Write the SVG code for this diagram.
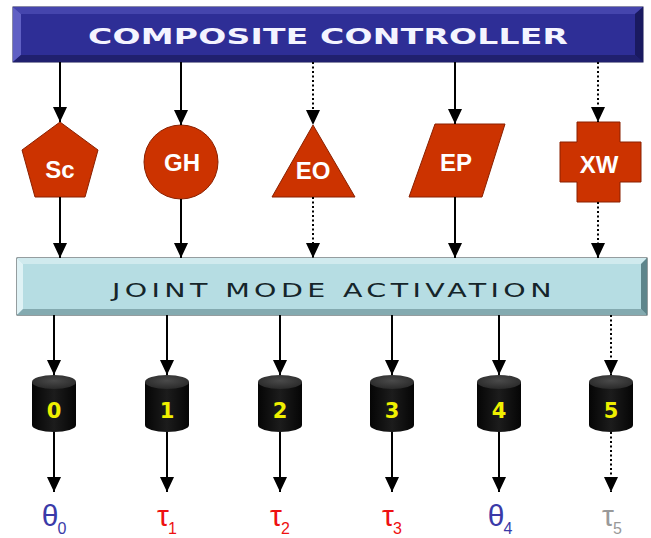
<svg xmlns="http://www.w3.org/2000/svg" width="651" height="538" viewBox="0 0 651 538">
<defs>
<style>
.sh{fill:#cc3300;stroke:#8a2000;stroke-width:1}
.lbl{font-family:"Liberation Sans",Arial,sans-serif;font-weight:bold;font-size:24px;fill:#ffffff;text-anchor:middle}
.con{stroke:#000;stroke-width:2;fill:none}
.dot{stroke-dasharray:2 2.5}
.num{font-family:"DejaVu Sans",sans-serif;font-weight:bold;font-size:21px;fill:#f0f000;text-anchor:middle}
.out{font-family:"Liberation Sans",Arial,sans-serif;font-size:30px;text-anchor:middle}
.sub{font-size:16px}
</style>
<marker id="arr" viewBox="0 0 15 14" refX="15" refY="7" markerWidth="15" markerHeight="14" markerUnits="userSpaceOnUse" orient="auto">
<path d="M0,0 L15,7 L0,14 z" fill="#000"/>
</marker>
<linearGradient id="cyl" x1="0" y1="0" x2="1" y2="0">
<stop offset="0" stop-color="#050505"/>
<stop offset="0.5" stop-color="#1c1c1c"/>
<stop offset="1" stop-color="#050505"/>
</linearGradient>
<radialGradient id="cyltop" cx="0.5" cy="0.4" r="0.6">
<stop offset="0" stop-color="#4a4a4a"/>
<stop offset="1" stop-color="#2a2a2a"/>
</radialGradient>
</defs>
<rect width="651" height="538" fill="#ffffff"/>

<g id="composite-controller">
<rect x="13" y="7" width="630" height="55" fill="#2e2e96" stroke="#151550" stroke-width="1"/>
<polygon points="13,7 643,7 635,14 21,14" fill="#4545ad"/>
<polygon points="13,7 21,14 21,55 13,62" fill="#6060c4"/>
<polygon points="13,62 21,55 635,55 643,62" fill="#20206e"/>
<polygon points="643,7 643,62 635,55 635,14" fill="#1a1a60"/>
<text transform="translate(88,44) scale(1.5,1)" x="0" y="0" textLength="320" lengthAdjust="spacing" style="font-family:'DejaVu Sans',sans-serif;font-weight:600;font-size:22px;fill:#f4f4ff">COMPOSITE CONTROLLER</text>
</g>

<g id="node-sc">
<polygon class="sh" points="60,122 98,150 85,197 35,197 22,150"/>
<text class="lbl" x="60" y="178">Sc</text>
</g>
<g id="node-gh">
<circle class="sh" cx="181" cy="162" r="37"/>
<text class="lbl" x="182" y="171">GH</text>
</g>
<g id="node-eo">
<polygon class="sh" points="313,125 355,197 272,197"/>
<text class="lbl" x="313" y="179">EO</text>
</g>
<g id="node-ep">
<polygon class="sh" points="435,124 505,124 482,197 409,197"/>
<text class="lbl" x="456" y="171">EP</text>
</g>
<g id="node-xw">
<polygon class="sh" points="577,122 620,122 620,142 641,142 641,182 620,182 620,202 577,202 577,182 560,182 560,142 577,142"/>
<text class="lbl" x="599" y="173">XW</text>
</g>

<g id="joint-mode-activation">
<rect x="17" y="258" width="630" height="57" fill="#b6dde3" stroke="#2c3c40" stroke-width="1"/>
<polygon points="17,258 647,258 641,264 23,264" fill="#d0eaee"/>
<polygon points="17,258 23,264 23,309 17,315" fill="#dff2f5"/>
<polygon points="17,315 23,309 641,309 647,315" fill="#84aab0"/>
<polygon points="647,258 647,315 641,309 641,264" fill="#5e858b"/>
<text transform="translate(112,297) scale(1.5,1)" x="0" y="0" textLength="293" lengthAdjust="spacing" style="font-family:'DejaVu Sans',sans-serif;font-size:19px;fill:#15252a">JOINT MODE ACTIVATION</text>
</g>

<g id="cylinders">
<g id="cyl-0"><path d="M32,382 L32,425 A22,7 0 0 0 76,425 L76,382 Z" fill="url(#cyl)"/><ellipse cx="54" cy="382" rx="22" ry="7" fill="url(#cyltop)"/><text class="num" x="54" y="418">0</text></g>
<g id="cyl-1"><path d="M145,382 L145,425 A22,7 0 0 0 189,425 L189,382 Z" fill="url(#cyl)"/><ellipse cx="167" cy="382" rx="22" ry="7" fill="url(#cyltop)"/><text class="num" x="167" y="418">1</text></g>
<g id="cyl-2"><path d="M258,382 L258,425 A22,7 0 0 0 302,425 L302,382 Z" fill="url(#cyl)"/><ellipse cx="280" cy="382" rx="22" ry="7" fill="url(#cyltop)"/><text class="num" x="280" y="418">2</text></g>
<g id="cyl-3"><path d="M370,382 L370,425 A22,7 0 0 0 414,425 L414,382 Z" fill="url(#cyl)"/><ellipse cx="392" cy="382" rx="22" ry="7" fill="url(#cyltop)"/><text class="num" x="392" y="418">3</text></g>
<g id="cyl-4"><path d="M477,382 L477,425 A22,7 0 0 0 521,425 L521,382 Z" fill="url(#cyl)"/><ellipse cx="499" cy="382" rx="22" ry="7" fill="url(#cyltop)"/><text class="num" x="499" y="418">4</text></g>
<g id="cyl-5"><path d="M589,382 L589,425 A22,7 0 0 0 633,425 L633,382 Z" fill="url(#cyl)"/><ellipse cx="611" cy="382" rx="22" ry="7" fill="url(#cyltop)"/><text class="num" x="611" y="418">5</text></g>
</g>

<g id="connectors">
<line class="con" x1="60" y1="62" x2="60" y2="122" marker-end="url(#arr)"/>
<line class="con" x1="181" y1="62" x2="181" y2="125" marker-end="url(#arr)"/>
<line class="con dot" x1="313" y1="62" x2="313" y2="125" marker-end="url(#arr)"/>
<line class="con" x1="455" y1="62" x2="455" y2="124" marker-end="url(#arr)"/>
<line class="con dot" x1="598" y1="62" x2="598" y2="122" marker-end="url(#arr)"/>

<line class="con" x1="60" y1="197" x2="60" y2="258" marker-end="url(#arr)"/>
<line class="con" x1="181" y1="199" x2="181" y2="258" marker-end="url(#arr)"/>
<line class="con dot" x1="313" y1="197" x2="313" y2="258" marker-end="url(#arr)"/>
<line class="con" x1="455" y1="197" x2="455" y2="258" marker-end="url(#arr)"/>
<line class="con dot" x1="598" y1="202" x2="598" y2="258" marker-end="url(#arr)"/>

<line class="con" x1="54" y1="315" x2="54" y2="375" marker-end="url(#arr)"/>
<line class="con" x1="167" y1="315" x2="167" y2="375" marker-end="url(#arr)"/>
<line class="con" x1="280" y1="315" x2="280" y2="375" marker-end="url(#arr)"/>
<line class="con" x1="392" y1="315" x2="392" y2="375" marker-end="url(#arr)"/>
<line class="con" x1="499" y1="315" x2="499" y2="375" marker-end="url(#arr)"/>
<line class="con dot" x1="611" y1="315" x2="611" y2="375" marker-end="url(#arr)"/>

<line class="con" x1="54" y1="432" x2="54" y2="492" marker-end="url(#arr)"/>
<line class="con" x1="167" y1="432" x2="167" y2="492" marker-end="url(#arr)"/>
<line class="con" x1="280" y1="432" x2="280" y2="492" marker-end="url(#arr)"/>
<line class="con" x1="392" y1="432" x2="392" y2="492" marker-end="url(#arr)"/>
<line class="con" x1="499" y1="432" x2="499" y2="492" marker-end="url(#arr)"/>
<line class="con dot" x1="611" y1="432" x2="611" y2="492" marker-end="url(#arr)"/>
</g>

<g id="outputs">
<text class="out" x="54" y="526" fill="#3a3aa8">θ<tspan class="sub" dx="-1" dy="8">0</tspan></text>
<text class="out" x="167" y="526" fill="#ee1111">τ<tspan class="sub" dx="-1" dy="8">1</tspan></text>
<text class="out" x="280" y="526" fill="#ee1111">τ<tspan class="sub" dx="-1" dy="8">2</tspan></text>
<text class="out" x="392" y="526" fill="#ee1111">τ<tspan class="sub" dx="-1" dy="8">3</tspan></text>
<text class="out" x="500" y="526" fill="#3a3aa8">θ<tspan class="sub" dx="-1" dy="8">4</tspan></text>
<text class="out" x="612" y="526" fill="#999999">τ<tspan class="sub" dx="-1" dy="8">5</tspan></text>
</g>
</svg>
